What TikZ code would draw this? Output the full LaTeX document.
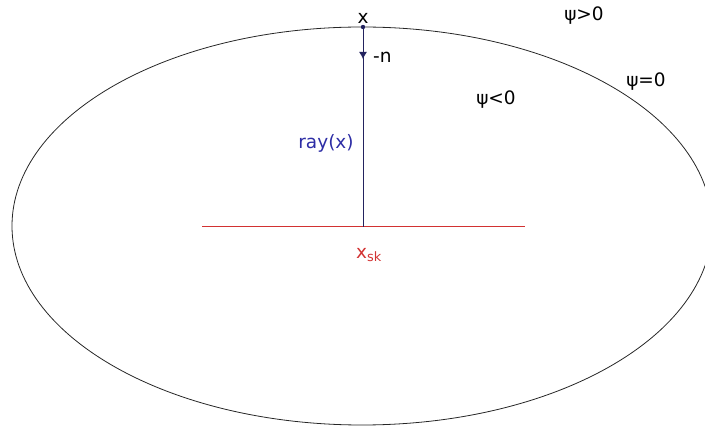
\documentclass[tikz,border=0pt]{standalone}
\usepackage{fontspec}
\setmainfont{DejaVu Sans}
\usetikzlibrary{arrows.meta,positioning}
\definecolor{rayblue}{RGB}{45,45,165}
\definecolor{linenavy}{RGB}{35,35,95}
\definecolor{skred}{RGB}{210,50,50}

\begin{document}
\begin{tikzpicture}[
x=1pt, y=-1pt,
  lbl/.style = {inner sep=0pt, font=\fontsize{18.5}{22}\selectfont},
  curve/.style = {draw=black!85, line width=0.8pt},
  rayline/.style = {draw=linenavy, line width=0.9pt},
  skline/.style = {color=skred, line width=1pt}
                ]
\useasboundingbox (0,0) rectangle (705,427);
\begin{scope}
\clip (0,0) rectangle (705,427);
\draw[curve] (362,226) ellipse [x radius=350, y radius=199];
\end{scope}

\coordinate (xtop) at (363,27);
\coordinate (ntip) at (363,59);
\coordinate (xsk)  at (363,227);
\coordinate (skl)  at (202,227);
\coordinate (skr)  at (525,227);

% red segment and the ray
\draw[skline] (skl) -- (skr);
\draw[rayline] (xtop) -- (xsk);
\draw[rayline, -{Latex[length=7pt,width=8pt]}] (xtop) -- (ntip);
\fill[linenavy] (xtop) circle (2.2pt);

\node (xlbl) [lbl, anchor=south] at (363,24) {x};
\node (nlbl) [lbl, anchor=mid west] at (373,60) {-n};
\node (ray)  [lbl, text=rayblue] at (326,143) {ray(x)};
\node (sk)   [lbl, text=skred] at (369,255) {x\textsubscript{sk}};
\node (neg)  [lbl] at (496,100) {ψ<0};
\node (pos)  [lbl] at (584,16) {ψ>0};
\node (zero) [lbl] at (646,82) {ψ=0};
%%
\end{tikzpicture}
\end{document}
